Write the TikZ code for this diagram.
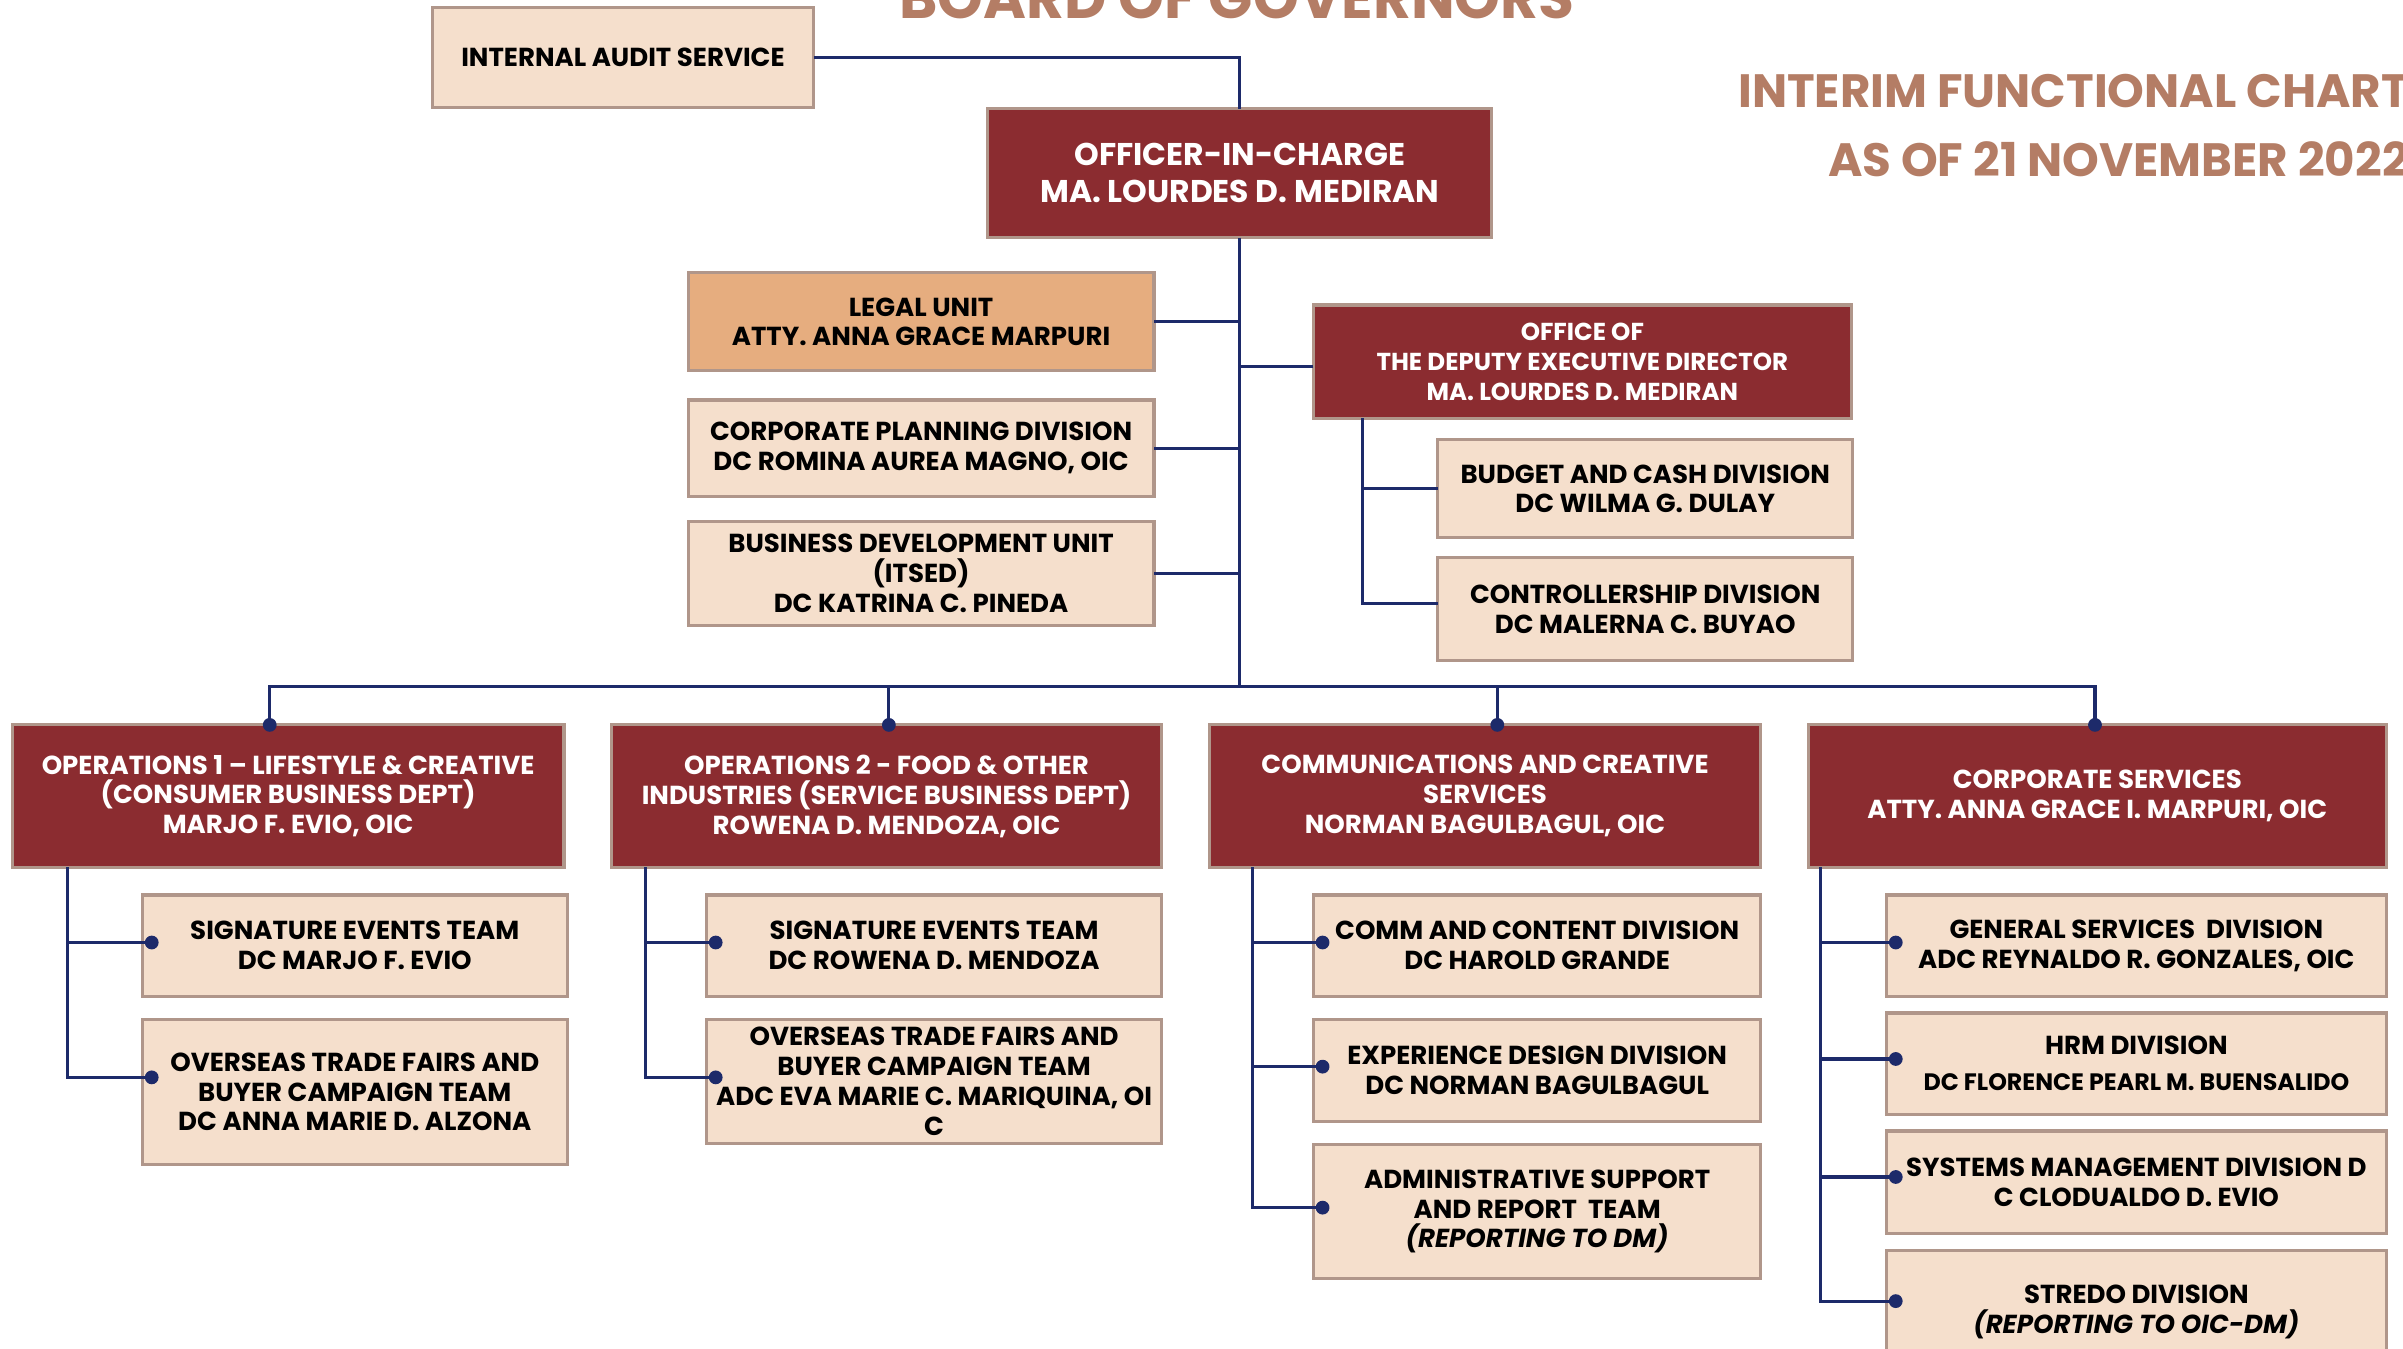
\documentclass[tikz,border=0pt]{standalone}
\usepackage{fontspec}
\setmainfont{Poppins}
\usetikzlibrary{calc,positioning}

\definecolor{boardred}{HTML}{8B2C30}
\definecolor{peach}{HTML}{F5DFCC}
\definecolor{legaltan}{HTML}{E6AD7F}
\definecolor{boxframe}{HTML}{B0968A}
\definecolor{linknavy}{HTML}{1D2A6A}
\definecolor{titlebrown}{HTML}{B47D65}

\begin{document}
\begin{tikzpicture}[
  x=1pt, y=-1pt,
  head/.style={
    rectangle,
    fill=boardred,
    draw=boxframe,
    line width=2pt,
    text=white,
    font=\bfseries\fontsize{17}{19.5}\selectfont,
    align=center,
    inner sep=0pt,
    outer sep=0pt
  },
  unit/.style={
    rectangle,
    fill=peach,
    draw=boxframe,
    line width=2pt,
    text=black,
    font=\bfseries\fontsize{17}{19.5}\selectfont,
    align=center,
    inner sep=0pt,
    outer sep=0pt
  },
  legal/.style={
    unit,
    fill=legaltan
  },
  title text/.style={
    text=titlebrown,
    font=\bfseries\fontsize{30.5}{36}\selectfont,
    inner sep=0pt
  },
  link/.style={
    draw=linknavy,
    line width=2pt
  },
  link dot/.style={
    circle,
    fill=linknavy,
    minimum size=9pt,
    inner sep=0pt
  }
  ]
\useasboundingbox (0,0) rectangle (1568,880);
% Titles
\node [title text, anchor=base, font=\bfseries\fontsize{38}{44}\selectfont] (board) at (807,12) {BOARD OF GOVERNORS};
\node [title text, anchor=base east] (chart title) at (1572,70) {INTERIM FUNCTIONAL CHART};
\node [title text, anchor=base east] (chart date) at (1572,115) {AS OF 21 NOVEMBER 2022};
% Officer in charge
\node [head, minimum width=329pt, minimum height=84pt, font=\bfseries\fontsize{20.5}{24}\selectfont] (oic) at (809,113) {OFFICER-IN-CHARGE\\MA. LOURDES D. MEDIRAN};
\node [unit, minimum width=249pt, minimum height=65pt] (audit) at (406.5,37.5) {INTERNAL AUDIT SERVICE};
\draw [link] (audit.east) -| (oic.north);
\coordinate (bus) at (809,448);
\draw [link] (oic.south) -- (bus);
% Staff units
\node [legal, minimum width=304pt, minimum height=64pt] (legal) at (601,210) {LEGAL UNIT\\ATTY. ANNA GRACE MARPURI};
\node [unit, minimum width=304pt, minimum height=63pt] (planning) at (601,292.5) {CORPORATE PLANNING DIVISION\\DC ROMINA AUREA MAGNO, OIC};
\node [unit, minimum width=304pt, minimum height=68pt] (bizdev) at (601,374) {BUSINESS DEVELOPMENT UNIT\\(ITSED)\\DC KATRINA C. PINEDA};
\foreach \n in {legal,planning,bizdev}
  \draw [link] (\n.east) -- (\n.east -| bus);
% Deputy executive director
\node [head, minimum width=351pt, minimum height=74pt, font=\bfseries\fontsize{16}{19.5}\selectfont] (ded) at (1032.5,236) {OFFICE OF\\THE DEPUTY EXECUTIVE DIRECTOR\\MA. LOURDES D. MEDIRAN};
\draw [link] ($(ded.west)+(0,3)$) -- ($(ded.west -| bus)+(0,3)$);
\node [unit, minimum width=271pt, minimum height=64pt] (budget) at (1073.5,319) {BUDGET AND CASH DIVISION\\DC WILMA G. DULAY};
\node [unit, minimum width=271pt, minimum height=67pt] (controller) at (1073.5,397.5) {CONTROLLERSHIP DIVISION\\DC MALERNA C. BUYAO};
\coordinate (ded trunk) at ($(ded.south west)+(32,0)$);
\draw [link] (ded trunk) |- (budget.west);
\draw [link] (ded trunk) |- ($(controller.west)+(0,-4)$);
% Departments
\node [head, minimum width=360pt, minimum height=93pt] (ops1) at (188,519.5) {OPERATIONS 1 – LIFESTYLE \& CREATIVE\\(CONSUMER BUSINESS DEPT)\\MARJO F. EVIO, OIC};
\node [head, minimum width=359pt, minimum height=93pt] (ops2) at (578.5,519.5) {OPERATIONS 2 - FOOD \& OTHER\\INDUSTRIES (SERVICE BUSINESS DEPT)\\ROWENA D. MENDOZA, OIC};
\node [head, minimum width=360pt, minimum height=93pt] (comm) at (969,519.5) {COMMUNICATIONS AND CREATIVE\\SERVICES\\NORMAN BAGULBAGUL, OIC};
\node [head, minimum width=377pt, minimum height=93pt] (corp) at (1368.5,519.5) {CORPORATE SERVICES\\ATTY. ANNA GRACE I. MARPURI, OIC};
\coordinate (drop ops1) at ($(ops1.north)+(-12,0)$);
\coordinate (drop ops2) at ($(ops2.north)+(1.5,0)$);
\coordinate (drop comm) at ($(comm.north)+(8,0)$);
\coordinate (drop corp) at ($(corp.north)+(-1.5,0)$);
\draw [link] (drop ops1) |- (bus) -| (drop corp);
\draw [link] (drop ops2) -- (drop ops2 |- bus);
\draw [link] (drop comm) -- (drop comm |- bus);
\foreach \d in {ops1,ops2,comm,corp}
  \node [link dot] at (drop \d) {};
% Operations 1
\node [unit, minimum width=277pt, minimum height=66pt] (ops1 sig) at (231.5,617) {SIGNATURE EVENTS TEAM\\DC MARJO F. EVIO};
\node [unit, minimum width=277pt, minimum height=95pt] (ops1 fairs) at (231.5,712.5) {OVERSEAS TRADE FAIRS AND\\BUYER CAMPAIGN TEAM\\DC ANNA MARIE D. ALZONA};
% Operations 2
\node [unit, minimum width=297pt, minimum height=66pt] (ops2 sig) at (609.5,617) {SIGNATURE EVENTS TEAM\\DC ROWENA D. MENDOZA};
\node [unit, minimum width=297pt, minimum height=81pt] (ops2 fairs) at (609.5,705.5) {OVERSEAS TRADE FAIRS AND\\BUYER CAMPAIGN TEAM\\ADC EVA MARIE C. MARIQUINA, OI\\C};
% Communications
\node [unit, minimum width=292pt, minimum height=66pt] (comm content) at (1003,617) {COMM AND CONTENT DIVISION\\DC HAROLD GRANDE};
\node [unit, minimum width=292pt, minimum height=67pt] (comm design) at (1003,698.5) {EXPERIENCE DESIGN DIVISION\\DC NORMAN BAGULBAGUL};
\node [unit, minimum width=292pt, minimum height=87pt] (comm admin) at (1003,790.5) {ADMINISTRATIVE SUPPORT\\AND REPORT\ \ TEAM\\\textit{(REPORTING TO DM)}};
% Corporate services
\node [unit, minimum width=326pt, minimum height=66pt] (corp general) at (1394,617) {GENERAL SERVICES\ \ DIVISION\\ADC REYNALDO R. GONZALES, OIC};
\node [unit, minimum width=326pt, minimum height=66pt] (corp hrm) at (1394,694) {HRM DIVISION\\[4pt]{\fontsize{15.5}{18}\selectfont DC FLORENCE PEARL M. BUENSALIDO}};
\node [unit, minimum width=326pt, minimum height=67pt] (corp systems) at (1394,771.5) {SYSTEMS MANAGEMENT DIVISION D\\C CLODUALDO D. EVIO};
\node [unit, minimum width=326pt, minimum height=80pt] (corp stredo) at (1394,856) {STREDO DIVISION\\\textit{(REPORTING TO OIC-DM)}};
% Branches with dots
\coordinate (ops1 trunk) at ($(ops1.south west)+(36,0)$);
\coordinate (ops2 trunk) at ($(ops2.south west)+(22,0)$);
\coordinate (comm trunk) at ($(comm.south west)+(28,0)$);
\coordinate (corp trunk) at ($(corp.south west)+(8,0)$);
\foreach \t/\c/\s in {ops1/ops1 sig/-2, ops1/ops1 fairs/-9.5, ops2/ops2 sig/-2, ops2/ops2 fairs/-2.5,
                      comm/comm content/-2, comm/comm design/-2.5, comm/comm admin/-2.5,
                      corp/corp general/-2, corp/corp hrm/-3, corp/corp systems/-3.5, corp/corp stredo/-7} {
  \draw [link] (\t\space trunk) |- ($(\c.west)+(6,\s)$);
  \node [link dot] at ($(\c.west)+(6,\s)$) {};
}
\end{tikzpicture}
\end{document}
